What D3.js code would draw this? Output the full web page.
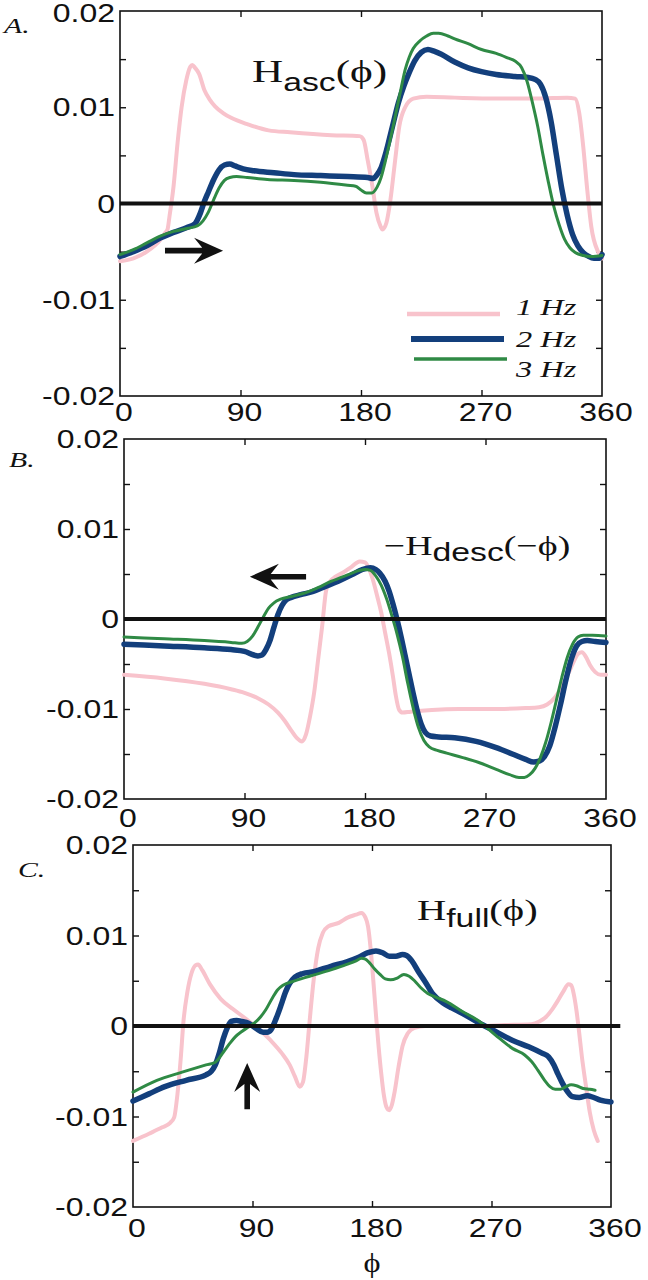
<!DOCTYPE html>
<html><head><meta charset="utf-8">
<script src="https://cdn.jsdelivr.net/npm/d3@7"></script>
<style>body{margin:0;background:#fff}svg{display:block}</style>
</head><body>
<svg id="c" width="648" height="1280"></svg>
<script>
// ---------- DATA ----------
const xTickValues = [0, 90, 180, 270, 360];
const xTickLabels = ["0", "90", "180", "270", "360"];
const yTickValues = [0.02, 0.01, 0, -0.01, -0.02];
const yTickLabels = ["0.02", "0.01", "0", "-0.01", "-0.02"];
const yMinorTicks = [0.015, 0.01, 0.005, 0, -0.005, -0.01, -0.015];
const seriesNames = ["1 Hz", "2 Hz", "3 Hz"];

// Panel A: H_asc(phi)  [phi, value]
const asc1Hz = [[0,-0.006],[10,-0.0057],[20,-0.005],[30,-0.0038],[34,-0.003],[35.5,-0.0027],[37,-0.0013],[40,0.0018],[43,0.0063],[46,0.01],[49.5,0.0128],[52.5,0.0142],[54,0.0144],[56,0.0141],[59,0.0135],[63,0.0118],[67,0.0108],[71,0.0101],[77,0.0094],[83,0.0089],[96,0.0082],[111,0.0076],[127,0.0074],[158,0.0071],[179,0.007],[182,0.0066],[185,0.0045],[188.5,0.0018],[191.6,-0.001],[194.7,-0.0024],[196,-0.0027],[199,-0.002],[202,0.0004],[205.5,0.0045],[208.6,0.008],[213,0.01],[219,0.0109],[229,0.0111],[250,0.011],[281,0.0109],[312,0.0109],[334,0.011],[340,0.0109],[343,0.0094],[346,0.0059],[349,0.0014],[352,-0.0024],[357,-0.005],[360,-0.0057]];
const asc2Hz = [[0,-0.0055],[10,-0.005],[20,-0.0044],[30,-0.0036],[40,-0.003],[50,-0.0025],[56,-0.0021],[60,-0.001],[63,0.0002],[66,0.0012],[70,0.0025],[74,0.0035],[78,0.004],[82,0.0041],[86,0.0039],[92,0.0036],[100,0.0034],[115,0.0032],[130,0.003],[150,0.0029],[170,0.0028],[185,0.0027],[189,0.0026],[192,0.003],[195,0.0037],[198,0.005],[201,0.0066],[204,0.0083],[208,0.0105],[212,0.0122],[216,0.0136],[220,0.0148],[225,0.0157],[230,0.016],[235,0.0158],[240,0.0155],[250,0.0147],[260,0.0141],[270,0.0137],[281,0.0134],[295,0.0132],[305,0.0131],[310,0.0129],[314,0.0124],[318,0.011],[322,0.0085],[326,0.005],[330,0.0015],[334,-0.0012],[338,-0.0032],[342,-0.0044],[346,-0.0051],[350,-0.0055],[354,-0.0057],[358,-0.0057],[360,-0.0053]];
const asc3Hz = [[0,-0.0053],[10,-0.0048],[20,-0.0041],[30,-0.0034],[40,-0.0029],[50,-0.0026],[58,-0.0023],[62,-0.0018],[66,-0.0009],[70,0.0004],[74,0.0016],[78,0.0024],[82,0.0027],[87,0.0028],[95,0.0027],[110,0.0025],[130,0.0024],[150,0.0022],[170,0.0019],[176,0.0018],[180,0.0014],[184,0.0011],[188,0.0011],[192,0.0017],[195,0.0027],[198,0.0043],[201,0.0061],[204,0.008],[207,0.01],[210,0.012],[213,0.0139],[216,0.0152],[219,0.0161],[224,0.0169],[229,0.0174],[234,0.0177],[238,0.0177],[245,0.0174],[250,0.0171],[260,0.0166],[270,0.016],[281,0.0156],[290,0.0151],[295,0.0148],[300,0.0141],[304,0.0127],[308,0.0105],[312,0.008],[316,0.005],[320,0.0022],[324,-0.0003],[328,-0.0022],[332,-0.0037],[336,-0.0046],[340,-0.0051],[346,-0.0054],[352,-0.0055],[360,-0.0054]];

// Panel B: -H_desc(-phi)
const desc1Hz = [[0,-0.0062],[30,-0.0066],[60,-0.0072],[80,-0.0078],[90,-0.0082],[100,-0.0088],[108,-0.0095],[115,-0.0104],[120,-0.0113],[125,-0.0124],[129,-0.0132],[133,-0.0136],[136,-0.0128],[139,-0.0108],[142,-0.0082],[145,-0.0045],[148,-0.0008],[151,0.0032],[154,0.0042],[158,0.0047],[164,0.0052],[170,0.0058],[176,0.0064],[180,0.0063],[183,0.0056],[186,0.0043],[189,0.0026],[192,0.0008],[195,-0.0015],[198,-0.0038],[201,-0.0065],[203,-0.0085],[205.5,-0.0101],[208,-0.0104],[214,-0.0103],[230,-0.0101],[250,-0.01],[280,-0.01],[300,-0.0099],[310,-0.0098],[316,-0.0095],[322,-0.0087],[327,-0.0075],[332,-0.006],[336,-0.0047],[339,-0.0039],[342,-0.0037],[345,-0.0042],[348,-0.0051],[352,-0.0059],[356,-0.0062],[360,-0.0062]];
const desc2Hz = [[0,-0.0028],[30,-0.003],[60,-0.0032],[80,-0.0034],[90,-0.0036],[97,-0.004],[100,-0.0041],[103,-0.004],[106,-0.0034],[109,-0.0024],[112,-0.0009],[115,0.0005],[118,0.0015],[121,0.0021],[125,0.0024],[132,0.0027],[140,0.003],[150,0.0036],[160,0.0042],[170,0.0049],[178,0.0055],[184,0.0057],[188,0.0055],[191,0.0051],[195,0.0042],[198,0.0031],[201,0.0016],[204,-0.0001],[207,-0.002],[210,-0.0041],[213,-0.0062],[216,-0.0083],[219,-0.0102],[222,-0.0117],[225,-0.0126],[229,-0.013],[235,-0.0131],[247,-0.0132],[263,-0.0136],[278,-0.0143],[290,-0.015],[300,-0.0156],[306,-0.0159],[310,-0.0158],[314,-0.0153],[318,-0.0141],[322,-0.012],[326,-0.0095],[330,-0.0068],[334,-0.0045],[338,-0.003],[342,-0.0025],[346,-0.0024],[352,-0.0025],[360,-0.0026]];
const desc3Hz = [[0,-0.002],[30,-0.0022],[60,-0.0024],[80,-0.0026],[88,-0.0027],[92,-0.0025],[96,-0.0019],[100,-0.0009],[104,0.0002],[108,0.0012],[112,0.0018],[117,0.0022],[125,0.0025],[133,0.0028],[142,0.0033],[155,0.0042],[167,0.0049],[176,0.0054],[180,0.0055],[184,0.0054],[188,0.0048],[192,0.0038],[196,0.0023],[200,0.0004],[204,-0.0017],[208,-0.0042],[212,-0.0072],[216,-0.0099],[220,-0.0121],[224,-0.0135],[228,-0.0142],[234,-0.0146],[241,-0.0149],[253,-0.0154],[266,-0.016],[278,-0.0167],[288,-0.0173],[295,-0.0176],[299,-0.0176],[303,-0.0173],[307,-0.0166],[311,-0.0154],[315,-0.0137],[319,-0.0115],[323,-0.009],[327,-0.0065],[331,-0.0043],[335,-0.0028],[339,-0.002],[343,-0.0018],[350,-0.0018],[360,-0.0019]];

// Panel C: H_full(phi)
const full1Hz = [[0,-0.0127],[12,-0.0119],[22,-0.0112],[28,-0.0107],[31,-0.0101],[33.5,-0.0075],[36,-0.0035],[38,0.0005],[41,0.0038],[44,0.0058],[47,0.0067],[49,0.0068],[52,0.0062],[58,0.0046],[66,0.003],[75,0.0019],[85,0.0008],[95,-0.0004],[105,-0.0018],[112,-0.003],[118,-0.0043],[122,-0.0056],[125.5,-0.0067],[128,-0.0062],[130.5,-0.0035],[133,0.0005],[136,0.005],[139.5,0.0086],[143,0.0103],[147,0.011],[155,0.0114],[162,0.012],[168,0.0123],[172,0.0125],[175,0.012],[177,0.011],[179,0.0085],[181,0.005],[183,0.0012],[185,-0.0023],[187,-0.0053],[189,-0.0077],[191,-0.009],[193,-0.0093],[195,-0.0087],[197,-0.0073],[200,-0.0045],[203,-0.0022],[207,-0.0008],[212,-0.0002],[220,0],[240,0],[260,0],[280,0.0001],[300,0.0002],[306,0.0005],[311,0.001],[316,0.0019],[320,0.0028],[324,0.0038],[328,0.0046],[330,0.0045],[332,0.0035],[334,0.0017],[336,-0.0007],[338,-0.0033],[341,-0.0065],[344,-0.0095],[347,-0.0115],[350,-0.0127]];
const full2Hz = [[0,-0.0083],[12,-0.0075],[24,-0.0067],[40,-0.006],[55,-0.0054],[59,-0.005],[62,-0.0043],[65,-0.003],[68,-0.0014],[71,-0.0002],[74,0.0005],[78,0.0006],[82,0.0005],[87,0.0003],[93,-0.0003],[98,-0.0007],[101,-0.0007],[104,-0.0004],[108,0.0009],[111.5,0.0023],[115,0.0038],[118,0.0047],[122,0.0054],[128,0.0058],[136,0.006],[149,0.0066],[161,0.0071],[170,0.0076],[177,0.0081],[183,0.0083],[188,0.0081],[193,0.0077],[198,0.0077],[203,0.0079],[206,0.0078],[210,0.0072],[215,0.006],[220,0.0049],[226,0.0035],[233,0.0026],[240,0.002],[248,0.0014],[261,0.0003],[273,-0.0006],[286,-0.0016],[298,-0.0023],[308,-0.003],[313,-0.0034],[317,-0.0043],[320,-0.0053],[323,-0.0062],[327,-0.0072],[331,-0.0078],[336,-0.0079],[342,-0.0077],[347,-0.0079],[352,-0.0082],[360,-0.0084]];
const full3Hz = [[0,-0.0073],[18,-0.006],[37,-0.0051],[55,-0.0043],[62,-0.004],[68,-0.0029],[73,-0.0019],[77,-0.0012],[82,-0.0006],[87,-0.0001],[92,0.0004],[96,0.001],[100,0.0018],[105,0.0031],[109,0.004],[113,0.0045],[120,0.0049],[133,0.0055],[149,0.0062],[161,0.0068],[168,0.0072],[172,0.0075],[175,0.0074],[178,0.007],[182,0.0063],[186,0.0057],[190,0.0052],[194,0.0051],[199,0.0053],[204,0.0057],[208,0.0055],[212,0.005],[217,0.0042],[222,0.0036],[228,0.0032],[236,0.0027],[248,0.0016],[261,0.0005],[273,-0.001],[286,-0.0025],[295,-0.0032],[300,-0.0039],[305,-0.0049],[310,-0.006],[314,-0.0067],[318,-0.007],[322,-0.007],[326,-0.0067],[330,-0.0065],[334,-0.0066],[339,-0.0069],[344,-0.007],[348,-0.0071]];

// annotation arrows [tailPhi, tailVal, tipPhi, tipVal]
const arrowA = [33.6, -0.0049, 77, -0.0049];
const arrowB = [136, 0.0047, 94, 0.0047];
const arrowC = [86, -0.0092, 86, -0.0041];

// ---------- STYLE / LAYOUT ----------
const colors = ["#f8c3cc", "#133f7c", "#2f8a45"];
const widths = [4, 5.5, 3];
const SANS = "'Liberation Sans', Arial, Helvetica, sans-serif";
const SERIF = "'Liberation Serif', 'DejaVu Serif', 'Times New Roman', serif";
const SX = 1.28;

const svg = d3.select("#c");

function stext(g, x, y, txt, o) {
  return g.append("text")
    .attr("transform", `translate(${x},${y}) scale(${o.sx || SX},1)`)
    .attr("text-anchor", o.anchor || "start")
    .style("font-family", o.family || SANS)
    .style("font-size", o.size + "px")
    .style("font-style", o.italic ? "italic" : "normal")
    .attr("fill", "#111")
    .text(txt);
}

function titleText(g, x, y, main, sub, rest, o) {
  const t = g.append("text")
    .attr("transform", `translate(${x},${y}) scale(1.35,1)`)
    .attr("fill", "#111");
  t.append("tspan").style("font-family", SERIF).style("font-size", o.main + "px").text(main);
  t.append("tspan").style("font-family", SANS).style("font-size", o.sub + "px").attr("dy", o.dy).text(sub);
  t.append("tspan").style("font-family", SERIF).style("font-size", o.main + "px").attr("dy", -o.dy).text(rest);
}

function drawArrow(g, x1, y1, x2, y2) {
  const dx = x2 - x1, dy = y2 - y1, len = Math.hypot(dx, dy);
  const ux = dx / len, uy = dy / len, nx = -uy, ny = ux;
  const L = 29, W = 13, sw = 2.8;
  const bx = x2 - L * ux, by = y2 - L * uy;
  const mx = x2 - 0.72 * L * ux, my = y2 - 0.72 * L * uy;
  const pts = [
    [x1 + sw * nx, y1 + sw * ny], [mx + sw * nx, my + sw * ny], [bx + W * nx, by + W * ny],
    [x2, y2], [bx - W * nx, by - W * ny], [mx - sw * nx, my - sw * ny], [x1 - sw * nx, y1 - sw * ny]
  ];
  g.append("path").attr("d", "M" + pts.map(p => p.join(",")).join("L") + "Z").attr("fill", "#111");
}

const panels = [
  { letter: "A.", letterPos: [4, 33], box: [120, 602, 11, 396], series: [asc1Hz, asc2Hz, asc3Hz],
    xBase: 421, zeroEnd: 360, arrow: arrowA,
    title: { x: 252, y: 82, main: "H", sub: "asc", rest: "(\u03D5)", mainSize: 32, subSize: 25, dy: 9 } },
  { letter: "B.", letterPos: [9, 467], box: [124, 606, 439, 799], series: [desc1Hz, desc2Hz, desc3Hz],
    xBase: 827, zeroEnd: 360, arrow: arrowB,
    title: { x: 384, y: 555, main: "\u2212H", sub: "desc", rest: "(\u2212\u03D5)", mainSize: 28, subSize: 25, dy: 6 } },
  { letter: "C.", letterPos: [18, 877], box: [133, 611, 845, 1207], series: [full1Hz, full2Hz, full3Hz],
    xBase: 1237, zeroEnd: 367, arrow: arrowC,
    title: { x: 417, y: 920, main: "H", sub: "full", rest: "(\u03D5)", mainSize: 30, subSize: 25, dy: 7 } }
];

panels.forEach((p, pi) => {
  const [L, R, T, B] = p.box;
  const x = d3.scaleLinear().domain([0, 360]).range([L, R]);
  const y = d3.scaleLinear().domain([-0.02, 0.02]).range([B, T]);
  const g = svg.append("g");

  // ticks (inward) via d3 axes
  const ax = [
    [d3.axisBottom(x).tickValues([90, 180, 270]), `translate(0,${B})`],
    [d3.axisTop(x).tickValues([90, 180, 270]), `translate(0,${T})`],
    [d3.axisLeft(y).tickValues(yMinorTicks), `translate(${L},0)`],
    [d3.axisRight(y).tickValues(yMinorTicks), `translate(${R},0)`]
  ];
  ax.forEach(([a, tr]) => {
    const ag = g.append("g").attr("transform", tr)
      .call(a.tickSizeInner(-6).tickSizeOuter(0).tickFormat(""));
    ag.select(".domain").remove();
    ag.selectAll("line").attr("stroke", "#111").attr("stroke-width", 1.4);
  });

  // frame
  g.append("rect").attr("x", L).attr("y", T).attr("width", R - L).attr("height", B - T)
    .attr("fill", "none").attr("stroke", "#111").attr("stroke-width", 1.6);

  // tick labels
  yTickValues.forEach((v, i) => stext(g, L - 5, Math.max(y(v) + 9, 22), yTickLabels[i], { size: 25, anchor: "end" }));
  xTickValues.forEach((v, i) => stext(g, x(v) + 4, p.xBase, xTickLabels[i], { size: 25, anchor: "middle" }));

  // curves
  const line = d3.line().x(d => x(d[0])).y(d => y(d[1])).curve(d3.curveMonotoneX);
  p.series.forEach((s, si) => {
    g.append("path").datum(s).attr("d", line).attr("fill", "none")
      .attr("stroke", colors[si]).attr("stroke-width", widths[si])
      .attr("stroke-linejoin", "round").attr("stroke-linecap", "round");
  });

  // zero line
  g.append("line").attr("x1", x(0)).attr("x2", x(p.zeroEnd)).attr("y1", y(0)).attr("y2", y(0))
    .attr("stroke", "#111").attr("stroke-width", 4);

  // arrow
  const a = p.arrow;
  drawArrow(g, x(a[0]), y(a[1]), x(a[2]), y(a[3]));

  // title
  const t = p.title;
  titleText(g, t.x, t.y, t.main, t.sub, t.rest, { main: t.mainSize, sub: t.subSize, dy: t.dy });

  // panel letter
  stext(g, p.letterPos[0], p.letterPos[1], p.letter, { size: 22, family: SERIF, italic: true, sx: 1.35 });

  // legend in panel A
  if (pi === 0) {
    const leg = [[407, 500, 314, 315], [411, 504, 339, 347], [414, 507, 359, 377]];
    leg.forEach((l, i) => {
      g.append("line").attr("x1", l[0]).attr("x2", l[1]).attr("y1", l[2]).attr("y2", l[2])
        .attr("stroke", colors[i]).attr("stroke-width", widths[i] + 0.5);
      stext(g, 516, l[3], seriesNames[i], { size: 24, family: SERIF, italic: true, sx: 1.35 });
    });
  }
  if (pi === 2) {
    stext(g, (L + R) / 2, 1272, "\u03D5", { size: 27, family: SERIF, anchor: "middle", sx: 1.2 });
  }
});
</script>
</body></html>
